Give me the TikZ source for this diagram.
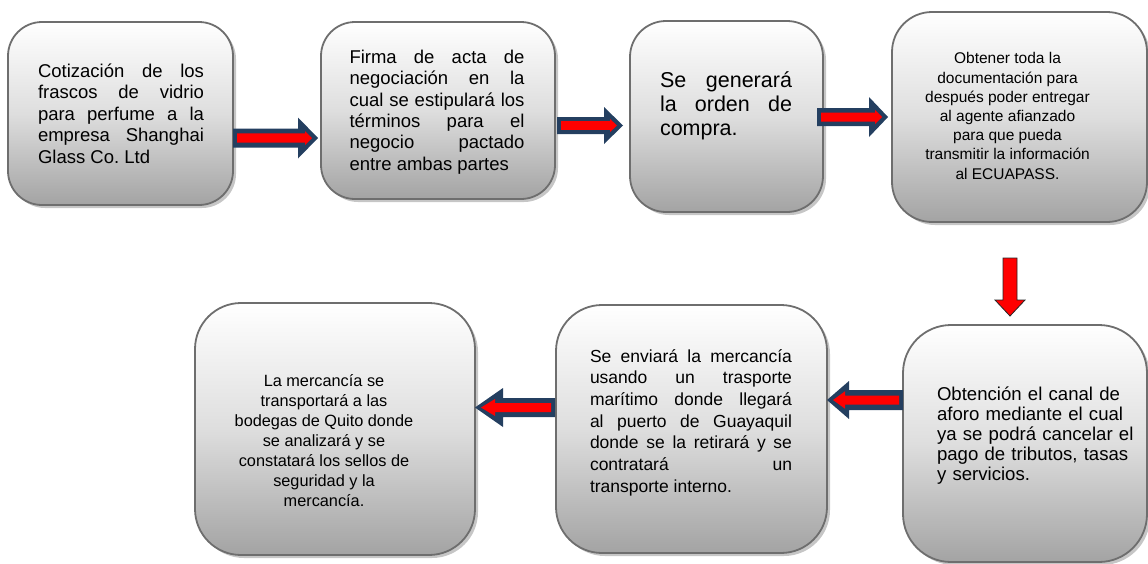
\documentclass[tikz,border=0pt]{standalone}
\usepackage{fontspec}
\setmainfont{Liberation Sans}
\usetikzlibrary{calc,shadows}
\definecolor{arrownavy}{HTML}{243F60}
\definecolor{boxline}{HTML}{6E6E6E}
\definecolor{arrred}{HTML}{FF0000}
\frenchspacing
% polygon of a block arrow from #1 (tail) to #2 (tip); #3 head length, #4 head half width, #5 shaft half width
\newcommand\arrowshape[5]{let \p1=(#1), \p2=(#2), \n1={veclen(\x2-\x1,\y2-\y1)}, \n2={(\x2-\x1)/(\n1)}, \n3={(\y2-\y1)/(\n1)} in
  ({\x1-(\n3)*(#5)},{\y1+(\n2)*(#5)}) --
  ({\x2-(\n2)*(#3)-(\n3)*(#5)},{\y2-(\n3)*(#3)+(\n2)*(#5)}) --
  ({\x2-(\n2)*(#3)-(\n3)*(#4)},{\y2-(\n3)*(#3)+(\n2)*(#4)}) --
  (\x2,\y2) --
  ({\x2-(\n2)*(#3)+(\n3)*(#4)},{\y2-(\n3)*(#3)-(\n2)*(#4)}) --
  ({\x2-(\n2)*(#3)+(\n3)*(#5)},{\y2-(\n3)*(#3)-(\n2)*(#5)}) --
  ({\x1+(\n3)*(#5)},{\y1-(\n2)*(#5)}) -- cycle}
\newcommand\blockarrow[8]{%
  \fill[arrownavy] \arrowshape{#1}{#2}{#3}{#4}{#5};
  \fill[arrred] \arrowshape{$(#1)!4pt!(#2)$}{$(#2)!6pt!(#1)$}{#6}{#7}{#8};}
\begin{document}
\begin{tikzpicture}[x=1pt,y=-1pt,
  box/.style={draw=boxline, line width=1.8pt, top color=white, bottom color=gray!72, middle color=gray!26,
    drop shadow={shadow xshift=3pt, shadow yshift=-3pt, opacity=0.45, fill=gray}, inner sep=0pt},
  txt/.style={inner sep=0pt, text=black}]
\useasboundingbox (0,0) rectangle (1148,563);

% boxes
\node[box, rounded corners=34pt, minimum width=225pt, minimum height=183pt] (b1) at (120.5,113.5) {};
\node[box, rounded corners=34pt, minimum width=234pt, minimum height=177pt] (b2) at (438,110.5) {};
\node[box, rounded corners=36pt, minimum width=193pt, minimum height=191pt] (b3) at (726.5,116.5) {};
\node[box, rounded corners=40pt, minimum width=255pt, minimum height=210pt] (b4) at (1019.5,117) {};
\node[box, rounded corners=48pt, minimum width=244pt, minimum height=237pt] (b5) at (1025,443.5) {};
\node[box, rounded corners=46pt, minimum width=271pt, minimum height=248pt] (b6) at (691.5,429) {};
\node[box, rounded corners=46pt, minimum width=280pt, minimum height=252pt] (b7) at (335,429) {};

% texts
\node[txt, text width=166pt, align=justify, font=\fontsize{18.5}{21.5}\selectfont] (t1) at (121,113.5)
  {Cotización de los\linebreak frascos de vidrio\linebreak para perfume a la\linebreak empresa Shanghai\linebreak Glass Co. Ltd};
\node[txt, text width=175pt, align=justify, font=\fontsize{18.5}{21.3}\selectfont] (t2) at (437,112)
  {Firma de acta de\linebreak negociación en la\linebreak cual se estipulará los\linebreak términos para el\linebreak negocio pactado\linebreak entre ambas partes};
\node[txt, text width=132pt, align=justify, font=\fontsize{21.5}{24}\selectfont] (t3) at (726,106)
  {Se generará\linebreak la orden de\linebreak compra.};
\node[txt, align=center, font=\fontsize{15.5}{19.2}\selectfont] (t4) at (1007.5,116)
  {Obtener toda la\\ documentación para\\ después poder entregar\\ al agente afianzado\\ para que pueda\\ transmitir la información\\ al ECUAPASS.};
\node[txt, text width=210pt, align=left, font=\fontsize{18.6}{20}\selectfont] (t5) at (1042,436)
  {Obtención el canal de\\ aforo mediante el cual\\ ya se podrá cancelar el\\ pago de tributos, tasas\\ y servicios.};
\node[txt, text width=202pt, align=justify, font=\fontsize{17.5}{21.7}\selectfont] (t6) at (691,422.5)
  {Se enviará la mercancía\linebreak usando un trasporte\linebreak marítimo donde llegará\linebreak al puerto de Guayaquil\linebreak donde se la retirará y se\linebreak contratará un\linebreak transporte interno.};
\node[txt, align=center, font=\fontsize{16.3}{20}\selectfont] (t7) at (324,441)
  {La mercancía se\\ transportará a las\\ bodegas de Quito donde\\ se analizará y se\\ constatará los sellos de\\ seguridad y la\\ mercancía.};

% arrow end points
\coordinate (a1s) at (233,138);   \coordinate (a1e) at (318,138);
\coordinate (a2s) at (557,125.5); \coordinate (a2e) at (623,125.5);
\coordinate (a3s) at (817,117);   \coordinate (a3e) at (888,117);
\coordinate (a5s) at (903,400);   \coordinate (a5e) at (827,400);
\coordinate (a6s) at (555,407.5); \coordinate (a6e) at (475,407.5);
\coordinate (a4s) at (1010,258);  \coordinate (a4e) at (1010,316);

\blockarrow{a1s}{a1e}{20}{20.5}{9.5}{7}{7}{4.7}
\blockarrow{a2s}{a2e}{19}{18.5}{8.5}{7}{6.5}{4.3}
\blockarrow{a3s}{a3e}{19}{20}{9}{7}{7}{4.5}
\blockarrow{a5s}{a5e}{22}{19}{10}{12}{8.7}{4.5}
\blockarrow{a6s}{a6e}{28}{19.5}{9.5}{14}{8.5}{4.5}
\filldraw[fill=arrred, draw=black!85, line width=0.8pt, line join=miter] \arrowshape{a4s}{a4e}{16}{15}{7};
\end{tikzpicture}
\end{document}
